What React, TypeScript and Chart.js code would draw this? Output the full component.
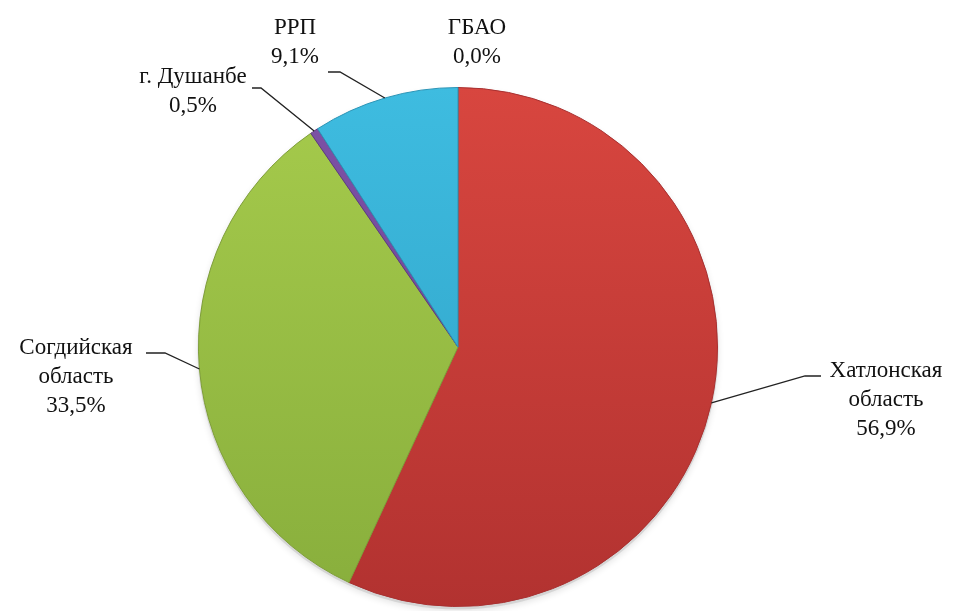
import React, { useEffect, useRef } from "react";
import { Chart, registerables } from "chart.js";

Chart.register(...registerables);

const categories = ["Хатлонская область", "Согдийская область", "г. Душанбе", "РРП", "ГБАО"];
const shares = [56.9, 33.5, 0.5, 9.1, 0.0];
const labelLines = [
  ["Хатлонская", "область", "56,9%"],
  ["Согдийская", "область", "33,5%"],
  ["г. Душанбе", "0,5%"],
  ["РРП", "9,1%"],
  ["ГБАО", "0,0%"],
];
const topColors = ["#D8463F", "#A6CB4C", "#7D52A6", "#3EBCE0", "#D8463F"];
const bottomColors = ["#B23230", "#88AE3C", "#6A4090", "#2E9FC4", "#B23230"];
const edgeColors = ["#A83030", "#7E9E38", "#5D3A80", "#2B94B6", "#A83030"];

// label layout: text center x, first line baseline y, elbow start (text side) and elbow x
const labelLayout = [
  { x: 886, y: 377, lx: 821, ly: 376, ex: 805 },
  { x: 76, y: 354, lx: 146, ly: 353, ex: 165 },
  { x: 193, y: 83, lx: 252, ly: 88, ex: 261 },
  { x: 295, y: 34, lx: 328, ly: 72, ex: 340 },
  { x: 477, y: 34, lx: 0, ly: 0, ex: 0 },
];
const lineHeight = 29;

const labelPlugin = {
  id: "leaderLabels",
  afterDatasetsDraw(chart: any) {
    const ctx = chart.ctx;
    const meta = chart.getDatasetMeta(0);
    ctx.save();
    ctx.font = "23px 'Liberation Serif', 'Times New Roman', serif";
    ctx.fillStyle = "#111";
    ctx.textAlign = "center";
    ctx.textBaseline = "alphabetic";
    meta.data.forEach((arc: any, i: number) => {
      const L = labelLayout[i];
      labelLines[i].forEach((t, k) => ctx.fillText(t, L.x, L.y + k * lineHeight));
      if (shares[i] > 0) {
        const { x, y, startAngle, endAngle, outerRadius } = arc.getProps(
          ["x", "y", "startAngle", "endAngle", "outerRadius"],
          true
        );
        const mid = (startAngle + endAngle) / 2;
        const ax = x + Math.cos(mid) * outerRadius;
        const ay = y + Math.sin(mid) * outerRadius;
        ctx.beginPath();
        ctx.strokeStyle = "#222";
        ctx.lineWidth = 1.3;
        ctx.moveTo(L.lx, L.ly);
        ctx.lineTo(L.ex, L.ly);
        ctx.lineTo(ax, ay);
        ctx.stroke();
      }
    });
    ctx.restore();
  },
};

const shadowPlugin = {
  id: "pieShadow",
  beforeDatasetsDraw(chart: any) {
    const meta = chart.getDatasetMeta(0);
    const a = meta.data[0];
    if (!a) return;
    const ctx = chart.ctx;
    ctx.save();
    ctx.beginPath();
    ctx.arc(a.x, a.y + 2, a.outerRadius + 1, 0, Math.PI * 2);
    ctx.shadowColor = "rgba(0,0,0,0.25)";
    ctx.shadowBlur = 6;
    ctx.shadowOffsetY = 2;
    ctx.fillStyle = "rgba(180,180,180,0.4)";
    ctx.fill();
    ctx.restore();
  },
};

export default function App() {
  const ref = useRef<HTMLCanvasElement>(null);
  useEffect(() => {
    if (!ref.current) return;
    const chart = new Chart(ref.current, {
      type: "pie",
      data: {
        labels: categories,
        datasets: [
          {
            data: shares,
            backgroundColor: (c: any) => {
              const area = c.chart.chartArea;
              if (!area) return topColors[c.dataIndex];
              const g = c.chart.ctx.createLinearGradient(0, area.top, 0, area.bottom);
              g.addColorStop(0, topColors[c.dataIndex]);
              g.addColorStop(1, bottomColors[c.dataIndex]);
              return g;
            },
            borderColor: edgeColors,
            borderWidth: 1,
          },
        ],
      },
      options: {
        animation: false,
        responsive: true,
        maintainAspectRatio: false,
        layout: { padding: { top: 87, bottom: 4, left: 150, right: 187 } },
        plugins: { legend: { display: false }, tooltip: { enabled: false } },
      },
      plugins: [shadowPlugin, labelPlugin],
    });
    return () => chart.destroy();
  }, []);
  return (
    <div style={{ position: "fixed", left: 0, top: 0, width: 953, height: 611, background: "#fff" }}>
      <canvas ref={ref} />
    </div>
  );
}
